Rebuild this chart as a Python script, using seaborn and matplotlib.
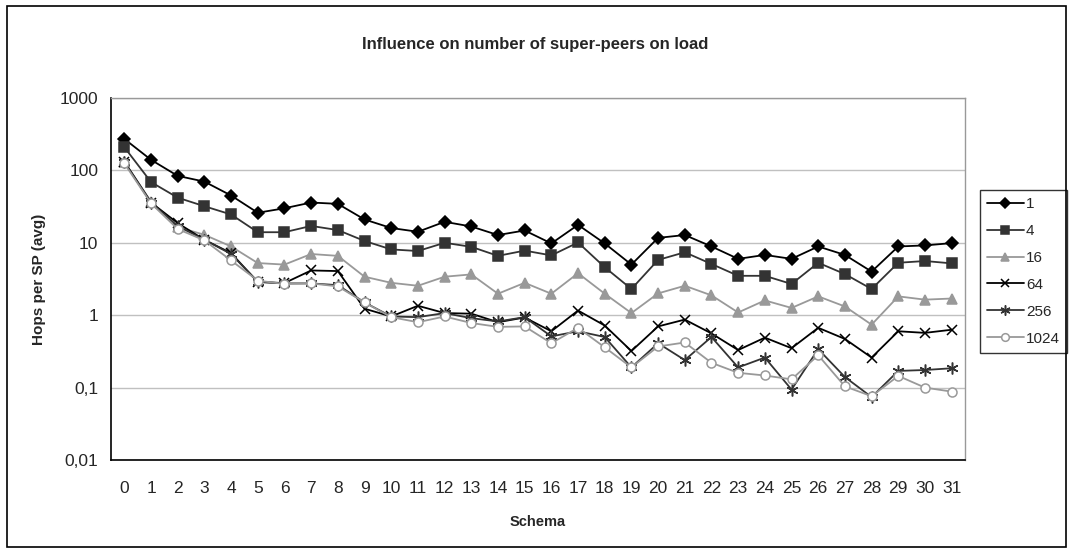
import numpy as np
import pandas as pd
import matplotlib
matplotlib.use("Agg")
import matplotlib.pyplot as plt
import seaborn as sns
from matplotlib.ticker import FixedLocator, FuncFormatter, NullLocator
from matplotlib.patches import Rectangle

# Valores
schema = list(range(32))
sp_1 = [272, 140, 84, 70, 45, 26, 30, 36, 34.5, 21, 16, 14.2, 19.5, 16.8, 12.8, 14.8,
        9.8, 17.7, 9.8, 5.0, 11.7, 12.8, 8.9, 6.0, 6.8, 6.0, 8.9, 6.8, 4.0, 8.9, 9.2, 9.9]
sp_4 = [209, 69, 42, 32, 24.6, 14.0, 14.0, 17.1, 15.0, 10.6, 8.1, 7.7, 10, 8.8, 6.6, 7.8,
        6.7, 10.1, 4.6, 2.3, 5.8, 7.4, 5.1, 3.5, 3.5, 2.7, 5.3, 3.7, 2.3, 5.3, 5.6, 5.2]
sp_16 = [132, 37, 16.5, 12.9, 8.9, 5.25, 5.0, 7.0, 6.6, 3.4, 2.8, 2.55, 3.4, 3.66, 1.98, 2.8,
         1.98, 3.8, 1.98, 1.07, 2.0, 2.55, 1.88, 1.09, 1.6, 1.26, 1.82, 1.32, 0.74, 1.82, 1.64, 1.7]
sp_64 = [132, 36, 18.7, 11, 7.2, 2.87, 2.78, 4.15, 4.07, 1.23, 0.96, 1.35, 1.07, 1.05, 0.80, 0.93,
         0.60, 1.16, 0.72, 0.32, 0.70, 0.87, 0.56, 0.33, 0.49, 0.35, 0.67, 0.47, 0.26, 0.60, 0.57, 0.63]
sp_256 = [130, 36, 17, 11, 7.0, 2.9, 2.75, 2.75, 2.6, 1.5, 0.96, 0.94, 1.07, 0.91, 0.82, 0.94,
          0.51, 0.60, 0.50, 0.19, 0.41, 0.24, 0.50, 0.19, 0.26, 0.094, 0.34, 0.14, 0.074, 0.17, 0.175, 0.185]
sp_1024 = [125, 35, 15.5, 10.8, 5.7, 3.0, 2.7, 2.75, 2.5, 1.5, 0.94, 0.80, 0.96, 0.78, 0.69, 0.70,
           0.41, 0.67, 0.36, 0.19, 0.37, 0.42, 0.22, 0.16, 0.147, 0.13, 0.28, 0.104, 0.076, 0.145, 0.10, 0.088]

labels = ["1", "4", "16", "64", "256", "1024"]
series = [sp_1, sp_4, sp_16, sp_64, sp_256, sp_1024]

sns.set_style("white")
plt.rcParams['font.family'] = ['Liberation Sans', 'DejaVu Sans']

# estilo de cada serie: color, marcador, relleno, tamaño
styles = {
    "1": ("black", "D", "black", 6.5),
    "4": ("#333333", "s", "#333333", 6.5),
    "16": ("#999999", "^", "#999999", 7),
    "64": ("black", "x", "black", 7),
    "256": ("#333333", (6, 2, 0), "#333333", 8.5),
    "1024": ("#999999", "o", "white", 6.5),
}

df = pd.DataFrame({"Schema": schema})
for lab, vals in zip(labels, series):
    df[lab] = vals

fig = plt.figure(figsize=(10.71, 5.52), dpi=100)
ax = fig.add_axes([111 / 1071, 1 - 460 / 552, (965 - 111) / 1071, (460 - 98) / 552])

for lab in labels:
    col, mk, fc, ms = styles[lab]
    sns.lineplot(data=df, x="Schema", y=lab, ax=ax, color=col, marker=mk,
                 markersize=ms, markerfacecolor=fc, markeredgecolor=col,
                 markeredgewidth=1.1, linewidth=1.3, label=lab)

ax.set_yscale("log")
ax.set_ylim(0.01, 1000)
ax.set_xlim(-0.5, 31.5)

yt = [0.01, 0.1, 1, 10, 100, 1000]
ax.yaxis.set_major_locator(FixedLocator(yt))
ax.yaxis.set_minor_locator(NullLocator())
ax.yaxis.set_major_formatter(FuncFormatter(lambda v, p: ("%g" % v).replace(".", ",")))
ax.set_xticks(schema)
ax.set_xticks(np.arange(-0.5, 32, 1), minor=True)
ax.tick_params(axis="x", which="major", length=0, pad=15, labelsize=12.5)
ax.tick_params(axis="x", which="minor", length=5, width=1, color="#333333", direction="out")
ax.tick_params(axis="y", which="major", length=5, width=1, direction="out", labelsize=12.5, pad=4)

ax.grid(True, axis="y", color="#c0c0c0", linewidth=1)
ax.grid(False, axis="x")
for s in ["left", "bottom"]:
    ax.spines[s].set_color("black")
    ax.spines[s].set_linewidth(1.2)
for s in ["top", "right"]:
    ax.spines[s].set_color("#999999")
    ax.spines[s].set_linewidth(1)

ax.set_xlabel("Schema", fontsize=10.5, fontweight="bold", labelpad=14)
ax.set_ylabel("Hops per SP (avg)", fontsize=11, fontweight="bold", labelpad=10)
fig.text(0.5, 1 - 45 / 552, "Influence on number of super-peers on load",
         ha="center", va="center", fontsize=12, fontweight="bold")

leg = ax.legend(loc="upper left", bbox_to_anchor=(980 / 1071, 1 - 190 / 552),
                bbox_transform=fig.transFigure, frameon=True, fancybox=False,
                fontsize=11, handlelength=2.4, labelspacing=0.85, borderpad=0.45,
                handletextpad=0.15, borderaxespad=0, markerscale=0.85)
leg.get_frame().set_edgecolor("black")
leg.get_frame().set_linewidth(1)

fig.patches.append(Rectangle((7 / 1071, 5 / 552), 1059 / 1071, 541 / 552,
                             transform=fig.transFigure, fill=False,
                             edgecolor="black", linewidth=1.2))

fig.savefig("out.png", dpi=100)
